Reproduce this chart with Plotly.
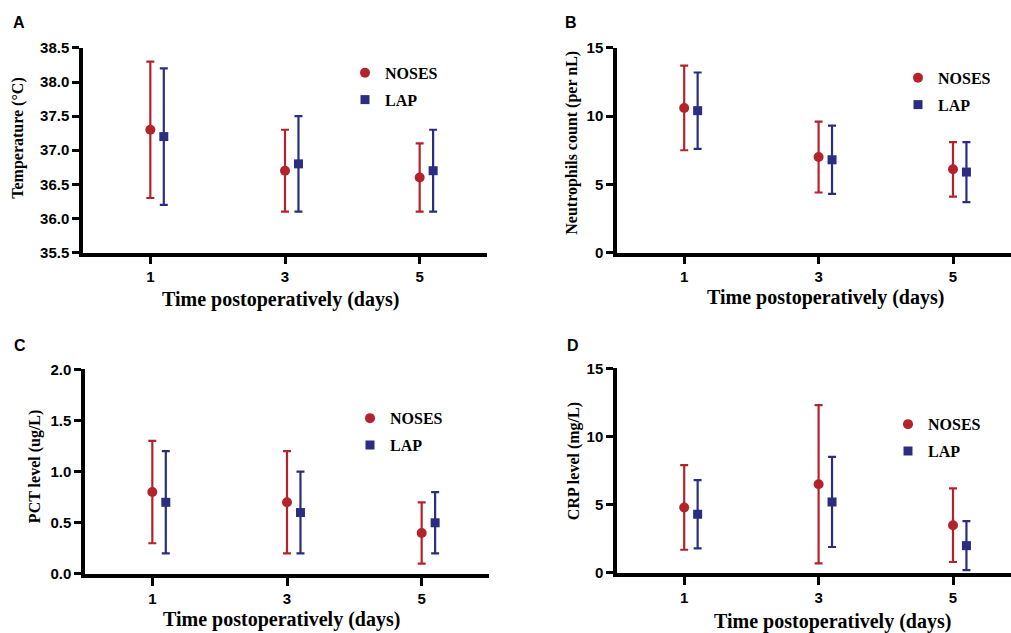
import plotly.graph_objects as go

# Postoperative days and the two surgical groups
days = [1, 3, 5]
groups = ["NOSES", "LAP"]

# Panel A: temperature (°C), mean and SD
temp_noses_mean = [37.3, 36.7, 36.6]
temp_noses_sd = [1.0, 0.6, 0.5]
temp_lap_mean = [37.2, 36.8, 36.7]
temp_lap_sd = [1.0, 0.7, 0.6]

# Panel B: neutrophils count (per nL)
neut_noses_mean = [10.6, 7.0, 6.1]
neut_noses_sd = [3.1, 2.6, 2.0]
neut_lap_mean = [10.4, 6.8, 5.9]
neut_lap_sd = [2.8, 2.5, 2.2]

# Panel C: PCT level (ug/L)
pct_noses_mean = [0.8, 0.7, 0.4]
pct_noses_sd = [0.5, 0.5, 0.3]
pct_lap_mean = [0.7, 0.6, 0.5]
pct_lap_sd = [0.5, 0.4, 0.3]

# Panel D: CRP level (mg/L)
crp_noses_mean = [4.8, 6.5, 3.5]
crp_noses_sd = [3.1, 5.8, 2.7]
crp_lap_mean = [4.3, 5.2, 2.0]
crp_lap_sd = [2.5, 3.3, 1.8]

panel_letters = ["A", "B", "C", "D"]
y_titles = ["Temperature (°C)", "Neutrophils count (per nL)",
            "PCT level (ug/L)", "CRP level (mg/L)"]
x_title = "Time postoperatively (days)"

RED = "#b3232b"
BLUE = "#2b2e80"
SANS = "Liberation Sans, Arial, sans-serif"
SERIF = "Liberation Serif, Times New Roman, serif"
W, H = 1011, 633
LAP_SHIFT = 0.2

# page offset/scale of the rendered figure in the vertical direction
Y_OFF, Y_SCALE = 8.0, 0.975


def px_x(v):
    return v / W


def px_y(v):
    return (H - (v - Y_OFF) / Y_SCALE) / H


panels = [
    dict(noses=(temp_noses_mean, temp_noses_sd), lap=(temp_lap_mean, temp_lap_sd),
         xdom=(83, 487), ydom=(47, 252), xmax=6.0, yr=(35.5, 38.5), dtick=0.5, fmt=".1f",
         leg=(367, 72), letter=(19, 22), ytitle=(18, 138), xtitle=(280, 299)),
    dict(noses=(neut_noses_mean, neut_noses_sd), lap=(neut_lap_mean, neut_lap_sd),
         xdom=(617, 1011), ydom=(47, 252), xmax=(1011 - 617) / 67.2, yr=(0, 15), dtick=5, fmt="d",
         leg=(920, 77), letter=(571, 22), ytitle=(572, 142), xtitle=(825, 297)),
    dict(noses=(pct_noses_mean, pct_noses_sd), lap=(pct_lap_mean, pct_lap_sd),
         xdom=(85, 489), ydom=(369, 574), xmax=6.0, yr=(0, 2), dtick=0.5, fmt=".1f",
         leg=(372, 418), letter=(20, 345), ytitle=(35, 467), xtitle=(281, 620)),
    dict(noses=(crp_noses_mean, crp_noses_sd), lap=(crp_lap_mean, crp_lap_sd),
         xdom=(617, 1011), ydom=(368, 573), xmax=(1011 - 617) / 67.2, yr=(0, 15), dtick=5, fmt="d",
         leg=(910, 424), letter=(573, 345), ytitle=(574, 461), xtitle=(832, 622)),
]

fig = go.Figure()
annotations = []
layout = {}

for i, p in enumerate(panels):
    n = "" if i == 0 else str(i + 1)
    legname = "legend" + n
    xa, ya = "x" + n, "y" + n
    for name, key, color, symbol, size, shift in [
        (groups[0], "noses", RED, "circle", 10, 0.0),
        (groups[1], "lap", BLUE, "square", 9, LAP_SHIFT),
    ]:
        mean, sd = p[key]
        fig.add_trace(go.Scatter(
            x=[d + shift for d in days], y=mean, mode="markers", name=name,
            marker=dict(symbol=symbol, size=size, color=color),
            error_y=dict(type="data", array=sd, visible=True, color=color,
                         thickness=2.2, width=4),
            xaxis=xa, yaxis=ya, legend=legname, legendgroup=f"{name}{i}",
            cliponaxis=False,
        ))

    layout["xaxis" + n] = dict(
        domain=[px_x(p["xdom"][0]), px_x(p["xdom"][1])], range=[0, p["xmax"]],
        anchor=ya, tickvals=days, ticktext=[str(d) for d in days],
        showline=True, linewidth=3.5, linecolor="black", ticks="outside", ticklen=8,
        tickwidth=3, tickcolor="black", showgrid=False, zeroline=False,
        tickfont=dict(family=SANS, size=15, color="black", weight="bold"),
    )
    layout["yaxis" + n] = dict(
        domain=[px_y(p["ydom"][1]), px_y(p["ydom"][0])], range=list(p["yr"]),
        anchor=xa, dtick=p["dtick"], tick0=p["yr"][0], tickformat=p["fmt"],
        showline=True, linewidth=3.5, linecolor="black", ticks="outside", ticklen=7,
        tickwidth=3, tickcolor="black", showgrid=False, zeroline=False,
        tickfont=dict(family=SANS, size=15, color="black", weight="bold"),
    )
    layout[legname] = dict(
        x=px_x(p["leg"][0] - 22), y=px_y(p["leg"][1] - 17), xanchor="left", yanchor="top",
        bgcolor="rgba(0,0,0,0)", traceorder="grouped", tracegroupgap=3,
        font=dict(family=SERIF, size=16, color="black", weight="bold"),
    )
    annotations.append(dict(
        text=panel_letters[i], x=px_x(p["letter"][0]), y=px_y(p["letter"][1]),
        xref="paper", yref="paper", showarrow=False, xanchor="center", yanchor="middle",
        font=dict(family=SANS, size=16, color="black", weight="bold"),
    ))
    annotations.append(dict(
        text=y_titles[i], x=px_x(p["ytitle"][0]), y=px_y(p["ytitle"][1]), textangle=-90,
        xref="paper", yref="paper", showarrow=False, xanchor="center", yanchor="middle",
        font=dict(family=SERIF, size=16, color="black", weight="bold"),
    ))
    annotations.append(dict(
        text=x_title, x=px_x(p["xtitle"][0]), y=px_y(p["xtitle"][1]),
        xref="paper", yref="paper", showarrow=False, xanchor="center", yanchor="middle",
        font=dict(family=SERIF, size=20, color="black", weight="bold"),
    ))

fig.update_layout(
    width=W, height=H, margin=dict(l=0, r=0, t=0, b=0),
    paper_bgcolor="white", plot_bgcolor="white",
    annotations=annotations, **layout,
)

fig.write_html("out.html")
